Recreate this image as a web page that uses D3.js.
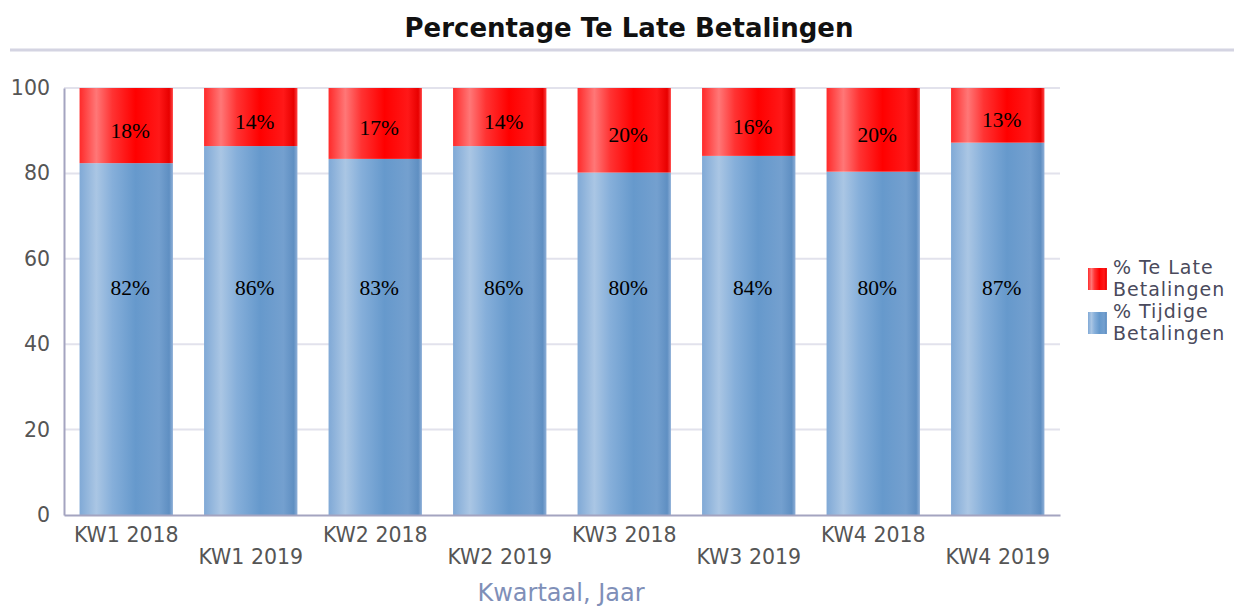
<!DOCTYPE html>
<html>
<head>
<meta charset="utf-8">
<script src="https://cdn.jsdelivr.net/npm/d3@7/dist/d3.min.js"></script>
<style>
  html, body { margin: 0; padding: 0; background: #fff; }
  svg { display: block; font-family: "DejaVu Sans", sans-serif; }
</style>
</head>
<body>
<svg id="chart" width="1234" height="609"></svg>
<script>
// Data
const categories = ['KW1 2018', 'KW1 2019', 'KW2 2018', 'KW2 2019', 'KW3 2018', 'KW3 2019', 'KW4 2018', 'KW4 2019'];
const onTime = [82.4, 86.4, 83.4, 86.4, 80.2, 84.1, 80.4, 87.2];
const late = [17.6, 13.6, 16.6, 13.6, 19.8, 15.9, 19.6, 12.8];
const yTicks = [0, 20, 40, 60, 80, 100];
const seriesNames = ['% Te Late Betalingen', '% Tijdige Betalingen'];

const svg = d3.select('#chart');
const W = 1234, H = 609;
const margin = { top: 88, right: 174, bottom: 94, left: 64 };
const innerW = W - margin.left - margin.right;
const innerH = H - margin.top - margin.bottom;

// gradients
const defs = svg.append('defs');
function grad(id, stops) {
    const g = defs.append('linearGradient').attr('id', id)
        .attr('x1', '0%').attr('x2', '100%').attr('y1', '0%').attr('y2', '0%');
    stops.forEach(s => g.append('stop').attr('offset', s[0]).attr('stop-color', s[1]));
}
grad('gBlue', [['0%', '#80a9d6'], ['18%', '#aac6e4'], ['35%', '#86afda'], ['60%', '#6699cc'], ['85%', '#74a0cf'], ['96%', '#5f8fc2'], ['100%', '#8fb0d8']]);
grad('gRed', [['0%', '#ff2a2a'], ['18%', '#ff7777'], ['35%', '#ff3333'], ['60%', '#ff0000'], ['85%', '#ff1818'], ['96%', '#e80000'], ['100%', '#ff4444']]);

// title
svg.append('text').attr('x', 629).attr('y', 37).attr('text-anchor', 'middle')
    .attr('font-size', 26).attr('font-weight', 'bold').attr('fill', '#111')
    .text('Percentage Te Late Betalingen');
svg.append('line').attr('x1', 10).attr('x2', W).attr('y1', 50).attr('y2', 50)
    .attr('stroke', '#d4d4e2').attr('stroke-width', 3);

const g = svg.append('g').attr('transform', `translate(${margin.left},${margin.top})`);

const x = d3.scaleBand().domain(categories).range([0, innerW]).paddingInner(0.25).paddingOuter(0.125);
const y = d3.scaleLinear().domain([0, 100]).range([innerH, 0]);

// grid
g.append('g').selectAll('line').data(yTicks.filter(d => d > 0)).join('line')
    .attr('x1', 0).attr('x2', innerW)
    .attr('y1', d => y(d)).attr('y2', d => y(d))
    .attr('stroke', '#e2e2ec').attr('stroke-width', 2);

// y axis
const yAxis = g.append('g').call(d3.axisLeft(y).tickValues(yTicks).tickSize(0).tickPadding(14));
yAxis.select('.domain').attr('stroke', '#a4a4c0').attr('stroke-width', 2);
yAxis.selectAll('text').attr('font-size', 20.5).attr('fill', '#555').attr('font-family', 'DejaVu Sans');

// bars
const bars = g.append('g').selectAll('g').data(categories).join('g');
bars.append('rect')
    .attr('x', d => x(d)).attr('width', x.bandwidth())
    .attr('y', (d, i) => y(onTime[i])).attr('height', (d, i) => y(0) - y(onTime[i]))
    .attr('fill', 'url(#gBlue)');
bars.append('rect')
    .attr('x', d => x(d)).attr('width', x.bandwidth())
    .attr('y', (d, i) => y(onTime[i] + late[i])).attr('height', (d, i) => y(onTime[i]) - y(onTime[i] + late[i]))
    .attr('fill', 'url(#gRed)');

// value labels
bars.append('text')
    .attr('x', d => x(d) + x.bandwidth() / 2 + 4)
    .attr('y', (d, i) => (y(onTime[i]) + y(onTime[i] + late[i])) / 2 + 12)
    .attr('text-anchor', 'middle').attr('font-family', 'Liberation Serif, serif').attr('font-size', 21.5)
    .attr('fill', '#000').text((d, i) => Math.round(late[i]) + '%');
bars.append('text')
    .attr('x', d => x(d) + x.bandwidth() / 2 + 4)
    .attr('y', y(53.5) + 8)
    .attr('text-anchor', 'middle').attr('font-family', 'Liberation Serif, serif').attr('font-size', 21.5)
    .attr('fill', '#000').text((d, i) => Math.round(onTime[i]) + '%');

// x axis
const xAxis = g.append('g').attr('transform', `translate(0,${innerH})`)
    .call(d3.axisBottom(x).tickSize(0).tickPadding(12));
xAxis.select('.domain').attr('stroke', '#a4a4c0').attr('stroke-width', 2);
xAxis.selectAll('text').attr('font-size', 20.5).attr('fill', '#555').attr('font-family', 'DejaVu Sans')
    .attr('dy', (d, i) => i % 2 ? '1.8em' : '0.71em');

svg.append('text').attr('x', 561).attr('y', 601).attr('text-anchor', 'middle')
    .attr('font-size', 24).attr('fill', '#7f8fb8').text('Kwartaal, Jaar');

// legend
const legend = svg.append('g').attr('transform', 'translate(1088,266)');
const legendFills = ['url(#gRed)', 'url(#gBlue)'];
seriesNames.forEach((name, i) => {
    const lg = legend.append('g').attr('transform', `translate(0,${i * 44})`);
    lg.append('rect').attr('x', 0).attr('y', 2).attr('width', 19).attr('height', 22).attr('fill', legendFills[i]);
    const words = name.split(' ');
    const t = lg.append('text').attr('x', 25).attr('y', 8).attr('font-size', 19).attr('letter-spacing', 1)
        .attr('fill', '#4a4a5c');
    t.append('tspan').attr('x', 25).text(words.slice(0, -1).join(' '));
    t.append('tspan').attr('x', 25).attr('dy', 22).text(words[words.length - 1]);
});
</script>
</body>
</html>
